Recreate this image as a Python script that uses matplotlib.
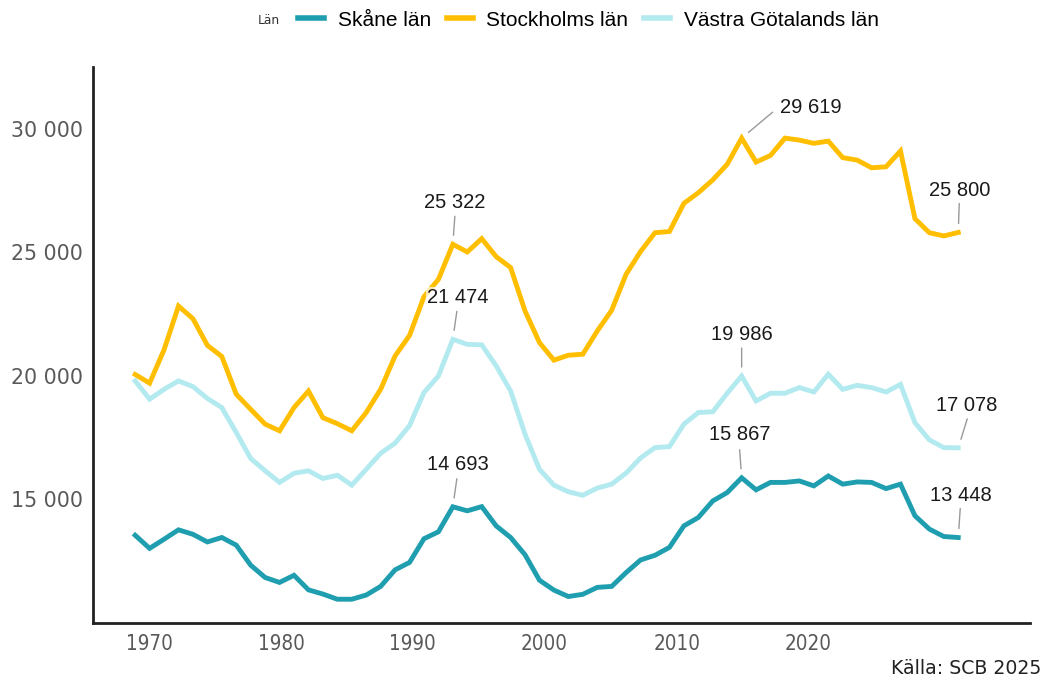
import numpy as np
import matplotlib.pyplot as plt
from matplotlib import font_manager

years = list(range(1968, 2026))

skane = [13540, 13010, 13380, 13760, 13580, 13270, 13450, 13140, 12330, 11830,
         11630, 11920, 11330, 11160, 10950, 10950, 11120, 11470, 12140, 12440,
         13400, 13680, 14693, 14530, 14700, 13920, 13450, 12750, 11720, 11320,
         11060, 11150, 11430, 11470, 12030, 12540, 12730, 13050, 13920, 14260,
         14930, 15270, 15867, 15380, 15680, 15680, 15740, 15540, 15940, 15610,
         15700, 15680, 15430, 15610, 14330, 13790, 13490, 13448]

stockholm = [20050, 19700, 21050, 22820, 22310, 21230, 20780, 19250, 18640, 18040,
             17770, 18710, 19380, 18300, 18060, 17770, 18510, 19450, 20800, 21630,
             23200, 23900, 25322, 25010, 25550, 24820, 24380, 22620, 21340, 20630,
             20830, 20870, 21810, 22650, 24110, 25030, 25790, 25840, 26980, 27410,
             27930, 28560, 29619, 28650, 28920, 29620, 29540, 29410, 29500, 28830,
             28730, 28420, 28460, 29100, 26360, 25790, 25660, 25800]

vastra = [19790, 19050, 19450, 19790, 19560, 19080, 18710, 17700, 16650, 16150,
          15680, 16050, 16150, 15840, 15970, 15570, 16210, 16860, 17270, 17980,
          19320, 19990, 21474, 21270, 21250, 20400, 19380, 17630, 16210, 15570,
          15300, 15160, 15450, 15610, 16060, 16670, 17090, 17130, 18040, 18510,
          18540, 19290, 19986, 18980, 19290, 19290, 19520, 19340, 20060, 19450,
          19610, 19520, 19340, 19650, 18100, 17400, 17090, 17078]

series_names = ['Skåne län', 'Stockholms län', 'Västra Götalands län']
colors = ['#1f9eb0', '#ffbf00', '#b3eaf0']

# the year labels in the original sit a bit left of their years
xtick_labels = ['1970', '1980', '1990', '2000', '2010', '2020']
xtick_pos = [1969.0, 1978.1, 1987.2, 1996.3, 2005.5, 2014.6]
ytick_vals = [15000, 20000, 25000, 30000]

# labelled points: (year, value, text offset px, leader start offset px)
labels = [
    (1990, 25322, (2, 42), (2, 28)),
    (1990, 21474, (5, 42), (4, 28)),
    (1990, 14693, (5, 42), (4, 28)),
    (2010, 29619, (69, 31), (31, 26)),
    (2025, 25800, (1, 42), (1, 29)),
    (2010, 19986, (0, 42), (0, 28)),
    (2025, 17078, (8, 42), (9, 29)),
    (2010, 15867, (-2, 43), (-2, 28)),
    (2025, 13448, (3, 42), (2, 29)),
]

fig = plt.figure(figsize=(10.43, 6.78), dpi=100)
ax = fig.add_axes([93 / 1043, 1 - 622.7 / 678, (1030 - 93) / 1043, (622.7 - 67) / 678])

for name, vals, c in zip(series_names, [skane, stockholm, vastra], colors):
    ax.plot(years, vals, color=c, lw=3.5, label=name, solid_joinstyle='miter', zorder=2)

for yr, val, toff, loff in labels:
    ax.annotate('', xy=(yr, val), xytext=loff, textcoords='offset pixels',
                arrowprops=dict(arrowstyle='-', color='#999999', lw=1.0, shrinkA=0, shrinkB=6.5),
                zorder=3)
    txt = f'{val:,}'.replace(',', ' ')
    ax.annotate(txt, xy=(yr, val), xytext=toff, textcoords='offset pixels',
                ha='center', va='center', fontsize=14.5, family='Liberation Sans',
                color='#1a1a1a', zorder=4,
                bbox=dict(facecolor='white', edgecolor='none', alpha=0.7, pad=0.5))

# keep the same data scale as before with the shorter axis
ax.set_xlim(1965.08, 1965.08 + (1030 - 93) / 14.44)
ax.set_ylim(10000, 32500)
ax.set_xticks(xtick_pos)
# condensed face if it is there, else plain DejaVu a bit smaller
cond = [f for f in font_manager.fontManager.ttflist
        if f.name == 'DejaVu Sans' and 'ondensed' in str(f.stretch) + f.fname and f.style == 'normal'
        and f.weight in (400, 'normal')]
if cond:
    ax.set_xticklabels(xtick_labels, fontproperties=font_manager.FontProperties(fname=cond[0].fname, size=14.8))
else:
    ax.set_xticklabels(xtick_labels, fontsize=11.5)
ax.set_yticks(ytick_vals)
ax.set_yticklabels([f'{v:,}'.replace(',', ' ') for v in ytick_vals], fontsize=14.8)
ax.tick_params(length=0, labelcolor='#595959')
ax.tick_params(axis='y', pad=7)
ax.tick_params(axis='x', pad=8)

for s in ['top', 'right']:
    ax.spines[s].set_visible(False)
for s in ['left', 'bottom']:
    ax.spines[s].set_linewidth(2)
    ax.spines[s].set_color('#222222')

leg = fig.legend(loc='center', bbox_to_anchor=(588.5 / 1043, 1 - 20 / 678), ncol=3,
                 frameon=False, handlelength=1.25, handletextpad=0.65, columnspacing=0.75,
                 prop={'family': 'Liberation Sans', 'size': 15}, borderpad=0)
for line in leg.get_lines():
    line.set_linewidth(4)
fig.text(269 / 1043, 1 - 20 / 678, 'Län', ha='center', va='center', fontsize=8.8, color='#333333')

fig.text(1041 / 1043, 1 - 668 / 678, 'Källa: SCB 2025', ha='right', va='center', fontsize=13.6,
         color='#222222')

fig.savefig('out.png', dpi=100)
